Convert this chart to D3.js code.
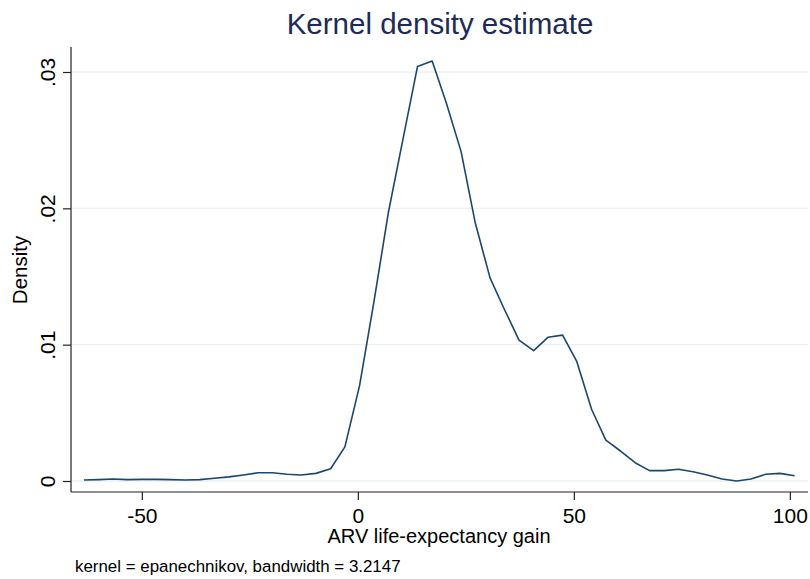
<!DOCTYPE html>
<html><head><meta charset="utf-8">
<script src="https://cdn.jsdelivr.net/npm/d3@7"></script>
<style>body{margin:0;background:#fff}svg{display:block}text{font-family:"Liberation Sans",Arial,sans-serif}</style>
</head><body>
<svg id="c" width="810" height="579"></svg>
<script>
const gainX = [-63.4,-60.0,-56.7,-53.3,-50.0,-46.6,-43.3,-39.9,-36.6,-33.2,-29.8,-26.5,-23.1,-19.8,-16.4,-13.1,-9.7,-6.3,-3.0,0.4,3.7,7.1,10.4,13.8,17.2,20.5,23.9,27.2,30.6,33.9,37.3,40.7,44.0,47.4,50.7,54.1,57.4,60.8,64.2,67.5,70.9,74.2,77.6,80.9,84.3,87.7,91.0,94.4,97.7,101.1];
const density = [0.00007,0.0001,0.00015,0.0001,0.00012,0.00012,0.0001,0.00007,0.0001,0.0002,0.0003,0.00044,0.0006,0.0006,0.0005,0.00044,0.00056,0.0009,0.0025,0.0070,0.0131,0.01975,0.0250,0.0304,0.0308,0.0277,0.02416,0.0189,0.0149,0.0126,0.01034,0.00956,0.01054,0.0107,0.00875,0.00526,0.0030,0.0022,0.00134,0.00076,0.00076,0.00086,0.00068,0.00044,0.00015,0.0,0.00015,0.00049,0.00056,0.00039];
const xTicks = [-50,0,50,100];
const xTickLabels = ["-50","0","50","100"];
const yTicks = [0,0.01,0.02,0.03];
const yTickLabels = ["0",".01",".02",".03"];

const svg = d3.select("#c");
const x = d3.scaleLinear().domain([-66.4,104.2]).range([71,808]);
const y = d3.scaleLinear().domain([0,0.03]).range([481,72]);
const pTop = 47, pBottom = 492, pLeft = 71, pRight = 808;

// gridlines
svg.append("g").selectAll("line").data(yTicks).join("line")
  .attr("x1",pLeft).attr("x2",pRight).attr("y1",d=>y(d)).attr("y2",d=>y(d))
  .attr("stroke","#eaf1f3").attr("stroke-width",1.3);

// y axis
const ya = svg.append("g").attr("transform",`translate(${pLeft},0)`)
  .call(d3.axisLeft(y).tickValues(yTicks).tickSize(8).tickFormat((d,i)=>yTickLabels[i]));
ya.select(".domain").remove();
ya.append("line").attr("x1",0).attr("x2",0).attr("y1",pTop).attr("y2",pBottom).attr("stroke","#222").attr("stroke-width",1.2);
ya.selectAll(".tick line").attr("stroke","#222").attr("stroke-width",1.2);
ya.selectAll(".tick text").attr("transform","rotate(-90)").attr("x",0).attr("y",-16)
  .attr("dy",0).attr("text-anchor","middle").attr("font-size",21).attr("fill","#000")
  .attr("font-family","Liberation Sans, Arial, sans-serif");

// x axis
const xa = svg.append("g").attr("transform",`translate(0,${pBottom})`)
  .call(d3.axisBottom(x).tickValues(xTicks).tickSize(8).tickFormat((d,i)=>xTickLabels[i]));
xa.select(".domain").remove();
xa.append("line").attr("x1",pLeft).attr("x2",pRight).attr("y1",0).attr("y2",0).attr("stroke","#222").attr("stroke-width",1.2);
xa.selectAll(".tick line").attr("stroke","#222").attr("stroke-width",1.2);
xa.selectAll(".tick text").attr("y",31).attr("dy",0).attr("font-size",21).attr("fill","#000")
  .attr("font-family","Liberation Sans, Arial, sans-serif");

// density line
svg.append("path").datum(gainX.map((g,i)=>[g,density[i]]))
  .attr("fill","none").attr("stroke","#1a476f").attr("stroke-width",1.6).attr("stroke-linejoin","round")
  .attr("d",d3.line().x(d=>x(d[0])).y(d=>y(d[1])));

// texts
svg.append("text").attr("x",440).attr("y",34).attr("text-anchor","middle")
  .attr("font-size",29.5).attr("fill","#1c2b58").text("Kernel density estimate");
svg.append("text").attr("x",439).attr("y",543).attr("text-anchor","middle")
  .attr("font-size",20).attr("fill","#000").text("ARV life-expectancy gain");
svg.append("text").attr("transform","translate(27,270) rotate(-90)").attr("text-anchor","middle")
  .attr("font-size",20.5).attr("fill","#000").text("Density");
svg.append("text").attr("x",75).attr("y",572)
  .attr("font-size",16.9).attr("fill","#000").text("kernel = epanechnikov, bandwidth = 3.2147");
</script>
</body></html>
